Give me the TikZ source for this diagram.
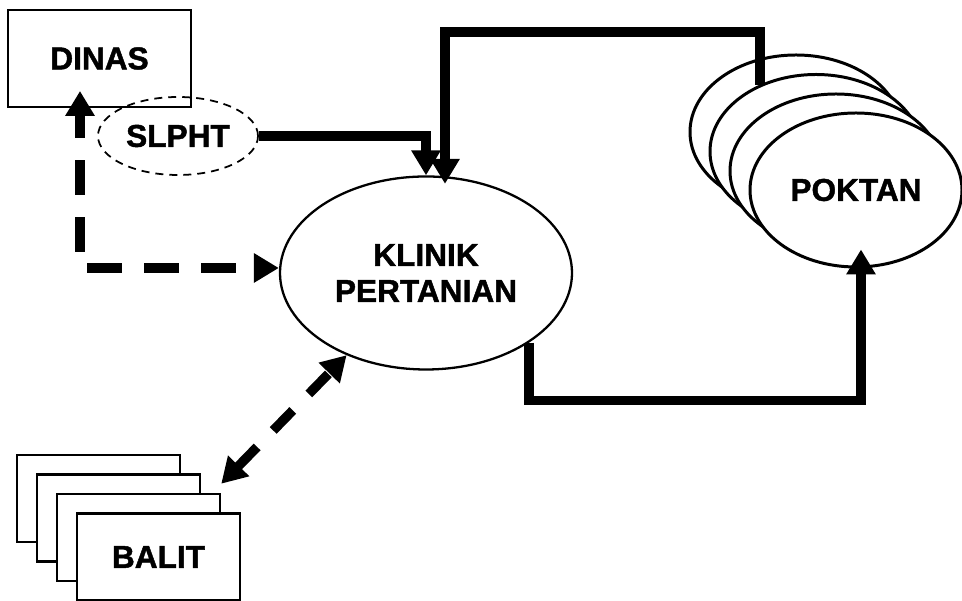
\documentclass[tikz,border=0pt]{standalone}
\usepackage{fontspec}
\setmainfont{Liberation Sans}
\newfontfamily\heavyfont[FakeBold=1.4]{Liberation Sans}
\usepackage{tikz}
\usetikzlibrary{arrows.meta, shapes.geometric, calc}
\tikzset{
  txt/.style={font=\heavyfont\bfseries\fontsize{18}{20.5}\selectfont, align=center},
  office/.style={txt, draw=black, line width=1.1pt, inner sep=0pt,
                 minimum width=3.66cm, minimum height=1.94cm},
  sheet/.style={txt, draw=black, fill=white, line width=1.4pt, inner sep=0pt,
                minimum width=3.26cm, minimum height=1.74cm},
  school/.style={txt, ellipse, draw=black, line width=1pt, dash pattern=on 0.16cm off 0.12cm,
                 inner sep=0pt, minimum width=3.2cm, minimum height=1.56cm},
  clinic/.style={txt, ellipse, draw=black, line width=1.3pt, inner sep=0pt,
                 minimum width=5.84cm, minimum height=3.86cm},
  group/.style={txt, ellipse, draw=black, fill=white, line width=1.7pt, inner sep=0pt,
                minimum width=4.24cm, minimum height=3.08cm},
  flow/.style={->, line width=5.4pt},
  link/.style={->, line width=5.4pt, dash pattern=on 0.7cm off 0.44cm},
}

\begin{document}
\begin{tikzpicture}[x=1cm, y=1cm, >={Triangle[length=0.5cm, width=0.56cm]}]
\useasboundingbox (0,0) rectangle (19.24,12.02);

% ---------------- the offices on the left ----------------
\node[office] (dinas) at (1.99,10.85) {DINAS};
\node[school] (slpht) at (3.56,9.30) {SLPHT};

% ---------------- the clinic ----------------
\node[clinic] (klinik) at (8.52,6.56) {KLINIK\\PERTANIAN};

% ---------------- farmer groups, back to front ----------------
\foreach \i/\x/\y in {1/15.92/9.38, 2/16.32/8.99, 3/16.72/8.60} {
  \node[group] (pk\i) at (\x,\y) {};
}
\node[group] (pk4) at (17.12,8.22) {POKTAN};

% ---------------- research institutes, back to front ----------------
\foreach \i/\x/\y in {1/1.97/2.05, 2/2.37/1.66, 3/2.77/1.27} {
  \node[sheet] (b\i) at (\x,\y) {};
}
\node[sheet] (b4) at (3.17,0.88) {BALIT};

% ---------------- solid flows ----------------
\draw[flow] (slpht.east) -| (klinik.north);
\draw[flow, shorten >=-0.17cm] (pk2.130) -- ++(0,1.05) -| ([xshift=0.38cm]klinik.north);
\draw[flow, shorten >=-0.38cm] (klinik.-34) -- ++(0,-1.16) -| ([xshift=0.1cm]pk4.south);

% ---------------- dashed links ----------------
\coordinate (bend) at (1.60,6.66);
\draw[link, dash phase=0.82cm, shorten >=-0.34cm] (bend) -- (bend |- dinas.south);
\draw[link, dash phase=1.0cm] (bend) -- (klinik.west |- bend);
\draw[link, <->, dash pattern=on 0.56cm off 0.46cm] ([yshift=0.18cm]b3.north east) -- (klinik.226);
\end{tikzpicture}
\end{document}
